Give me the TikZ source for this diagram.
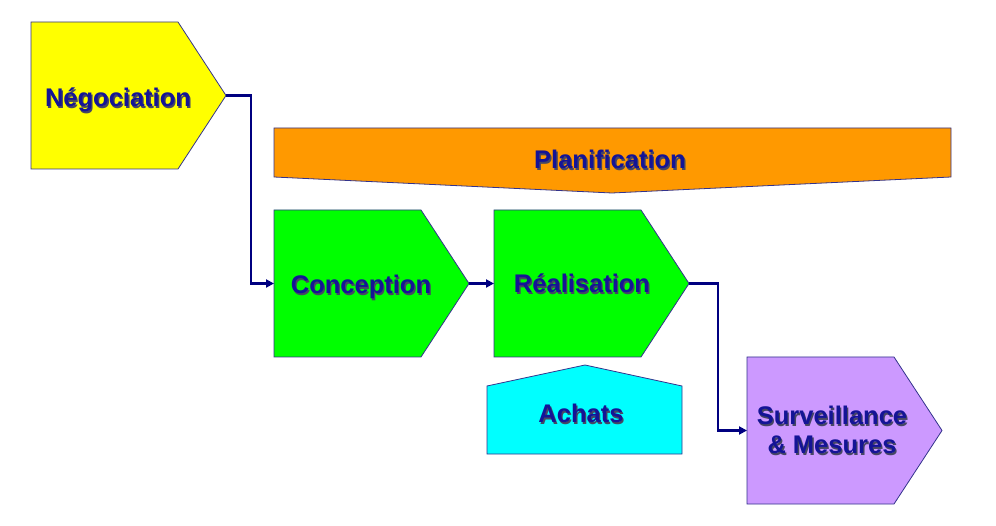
\documentclass[tikz,border=0pt]{standalone}
\usepackage{fontspec}
\setmainfont{Liberation Sans}
\usepackage{tikz}
\usetikzlibrary{arrows.meta}
\definecolor{rand}{RGB}{51,51,140}
\definecolor{linie}{RGB}{0,0,128}
\definecolor{schrift}{RGB}{20,20,150}
\definecolor{schatten}{RGB}{70,70,100}
\definecolor{gelb}{RGB}{255,255,0}
\definecolor{orange}{RGB}{255,153,0}
\definecolor{gruen}{RGB}{0,255,0}
\definecolor{cyan}{RGB}{0,255,255}
\definecolor{lila}{RGB}{204,153,255}
\tikzset{every picture/.style={x=1pt, y=-1pt, >={Triangle[length=8pt,width=8pt]}}}
\tikzstyle{box}   = [draw=rand, line width=0.8pt, line join=miter]
\tikzstyle{link}  = [->, draw=linie, line width=2.2pt]
\tikzstyle{titre} = [anchor=base, text=schrift, font=\bfseries\fontsize{25.5}{29}\selectfont]
% Text mit Schatten
\newcommand{\ombre}[1]{\makebox[0pt][l]{\kern1.3pt\raisebox{-1.3pt}{\color{schatten}#1}}#1}
% Etappe: Name, Ecke oben links, Farbe
\newcommand{\etape}[3]{%
  \draw[box, fill=#3] #2 -- ++(147,0) -- ++(48,73.5) coordinate (#1tip)
    -- ++(-48,73.5) -- ++(-147,0) -- ++(0,-73.5) coordinate (#1in) -- cycle;
}

\begin{document}
\begin{tikzpicture}
	\useasboundingbox (0,0) rectangle (996,526);

	% Etappen
	\etape{neg}{(31,22)}{gelb}
	\etape{con}{(274,210)}{gruen}
	\etape{rea}{(494,210)}{gruen}
	\etape{sur}{(747,357)}{lila}

	% Planification
	\draw[box, fill=orange] (274,128) -- (951,128) -- (951,177) -- (612,193) -- (274,177) -- cycle;

	% Achats
	\draw[box, fill=cyan] (487,454) -- (487,386) -- (585,365) -- (682,386) -- (682,454) -- cycle;

	% Texte
	\node[titre] (negtxt) at (118,107) {\ombre{Négociation}};
	\node[titre] (plantxt) at (610,169) {\ombre{Planification}};
	\node[titre] (contxt) at (361,294) {\ombre{Conception}};
	\node[titre] (reatxt) at (582,293) {\ombre{Réalisation}};
	\node[titre] (achtxt) at (581,423) {\ombre{Achats}};
	\node[titre, anchor=center, align=center] (surtxt) at (832,431) {\ombre{Surveillance}\\\ombre{\& Mesures}};

	% Verbindungen
	\draw[link] (negtip) -- ++(25,0) |- (conin);
	\draw[link] (contip) -- (reain);
	\draw[link] (reatip) -- ++(29,0) |- (surin);
\end{tikzpicture}
\end{document}
